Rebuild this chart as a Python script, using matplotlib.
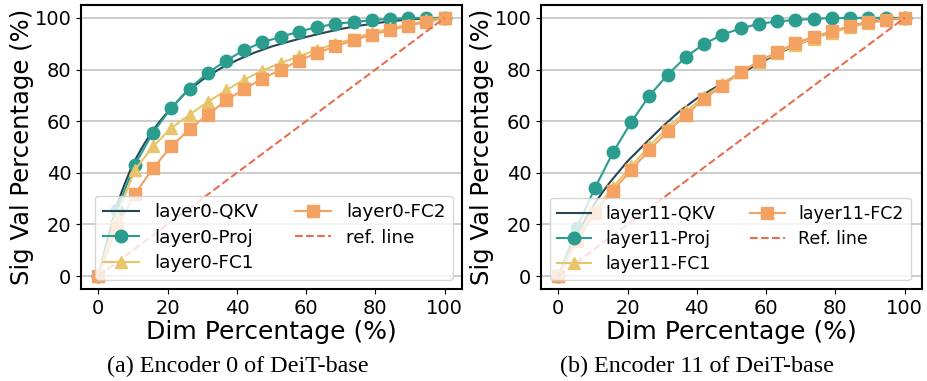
import numpy as np
import matplotlib
matplotlib.use("Agg")
from matplotlib import pyplot as plt

# x positions of marked points (20 points, 0..100)
dim_pct = [0, 5.26, 10.53, 15.79, 21.05, 26.32, 31.58, 36.84, 42.11, 47.37,
           52.63, 57.89, 63.16, 68.42, 73.68, 78.95, 84.21, 89.47, 94.74, 100]
# finer x positions for the smooth QKV curve
dim_pct_fine = [0, 2, 4, 6, 8, 10, 12.5, 15, 17.5, 20, 25, 30, 35, 40, 45, 50,
                55, 60, 65, 70, 75, 80, 85, 90, 95, 100]

# encoder 0
enc0_qkv = [0, 11, 21, 30, 37, 43.5, 49.5, 55, 59.5, 63.5, 70.8, 76, 80.2, 83.6,
            86.5, 88.9, 90.8, 92.6, 94.2, 95.7, 96.9, 97.9, 98.8, 99.4, 99.8, 100]
enc0_proj = [0, 25.4, 43.1, 55.6, 65.1, 72.6, 78.7, 83.4, 87.5, 90.6,
             92.6, 94.7, 96.4, 97.7, 98.4, 99.1, 99.6, 99.9, 100, 100]
enc0_fc1 = [0, 23, 41.1, 50.2, 57.3, 62.5, 67.4, 71.9, 76.1, 79.6,
            82.5, 85.1, 87.7, 89.9, 92.0, 94.2, 95.9, 97.4, 99, 100]
enc0_fc2 = [0, 18.5, 31.7, 41.8, 50.2, 56.9, 62.5, 68.0, 72.4, 76.5,
            79.9, 83.4, 86.4, 89.0, 91.3, 93.5, 95.2, 97.0, 98.4, 100]

# encoder 11
enc11_qkv = [0, 6, 12, 17.5, 22.5, 27, 32, 36.5, 40.5, 44.5, 51.2, 57.8, 63.8, 68.8,
             72.8, 76.6, 80.2, 83.8, 87.2, 90.2, 92.8, 95, 97, 98.5, 99.4, 100]
enc11_proj = [0, 18.5, 34.0, 47.9, 59.6, 69.9, 78.0, 84.9, 89.9, 93.5,
              95.9, 97.7, 98.6, 99.2, 99.6, 99.9, 100, 100, 100, 100]
enc11_fc1 = [0, 14.5, 25.5, 34.5, 42.5, 50.5, 57.5, 63.8, 69.5, 74.3,
             79.2, 83.0, 86.2, 89.6, 92.0, 94.2, 96.3, 98.0, 99.0, 100]
enc11_fc2 = [0, 13.5, 24.3, 33.1, 41.1, 48.9, 56.0, 62.5, 68.6, 73.7,
             78.9, 83.2, 86.7, 90.3, 92.6, 94.8, 96.8, 98.3, 99.1, 100]

ref_x = [0, 100]
ref_y = [0, 100]

COLORS = ["#264653", "#2A9D8F", "#E9C46A", "#F4A261", "#E76F51"]
MS = 9
LW = 1.5

fig = plt.figure(figsize=(9.27, 3.81), dpi=100)
ax0 = fig.add_axes([0.0874, 0.2415, 0.411, 0.7455])
ax1 = fig.add_axes([0.5836, 0.2415, 0.411, 0.7455])


def draw(ax, layer, qkv, proj, fc1, fc2, ref_label, legend_loc, legend_fs):
    ax.plot(dim_pct_fine, qkv, color=COLORS[0], lw=LW, label=f"layer{layer}-QKV")
    ax.plot(dim_pct, proj, color=COLORS[1], lw=LW, marker="o", ms=MS, label=f"layer{layer}-Proj")
    ax.plot(dim_pct, fc1, color=COLORS[2], lw=LW, marker="^", ms=MS, label=f"layer{layer}-FC1")
    ax.plot(dim_pct, fc2, color=COLORS[3], lw=LW, marker="s", ms=MS, label=f"layer{layer}-FC2")
    ax.plot(ref_x, ref_y, color=COLORS[4], lw=LW, ls="--", label=ref_label)
    ax.set_yticks([0, 20, 40, 60, 80, 100])
    ax.set_xticks([0, 20, 40, 60, 80, 100])
    ax.grid(axis="y", color="#c8c8c8", lw=1.3)
    ax.set_axisbelow(True)
    ax.tick_params(labelsize=14)
    ax.set_xlabel("Dim Percentage (%)", fontsize=18, labelpad=2)
    ax.set_ylabel("Sig Val Percentage (%)", fontsize=17.5, labelpad=0)
    for s in ax.spines.values():
        s.set_linewidth(1.5)
    ax.legend(loc=legend_loc, ncol=2, fontsize=legend_fs, labelspacing=0.42)


draw(ax0, 0, enc0_qkv, enc0_proj, enc0_fc1, enc0_fc2, "ref. line", "lower right", 13.2)
draw(ax1, 11, enc11_qkv, enc11_proj, enc11_fc1, enc11_fc2, "Ref. line", "lower left", 12.5)

fig.text(0.2562, 0.039, "(a) Encoder 0 of DeiT-base", family="Liberation Serif",
         fontsize=17.4, ha="center", va="center")
fig.text(0.7524, 0.039, "(b) Encoder 11 of DeiT-base", family="Liberation Serif",
         fontsize=17.4, ha="center", va="center")

fig.savefig("out.png", dpi=100)
